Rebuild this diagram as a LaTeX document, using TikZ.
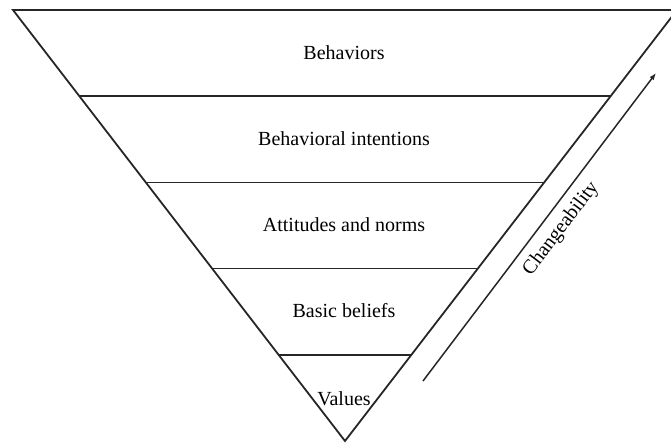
\documentclass[tikz,border=0pt]{standalone}
\usepackage{fontspec}
\setmainfont{Liberation Serif}
\usetikzlibrary{calc,arrows.meta}
\begin{document}
\begin{tikzpicture}[x=0.5pt,y=-0.5pt]
\tikzstyle{rung}=[line width=0.75pt,draw=black!85]
\tikzstyle{layertext}=[font=\fontsize{10}{12}\selectfont]
\useasboundingbox (0,0) rectangle (671,443);
\clip (0,0) rectangle (671,443);
% ========= corners
\coordinate (tl) at (13,10);
\coordinate (tr) at (677,10);
\coordinate (apex) at (345,441);
\draw [rung, line width=0.9pt] (tl) -- (tr) -- (apex) -- cycle;
% ====== levels
\foreach \t in {0.2,0.4,0.6,0.8}
  \draw [rung] ($(tl)!\t!(apex)$) -- ($(tr)!\t!(apex)$);
%% ===== labels
\node (behav) [layertext] at (344,53) {Behaviors};
\node (intent) [layertext] at (344,139) {Behavioral intentions};
\node (attit) [layertext] at (344,225) {Attitudes and norms};
\node (belief) [layertext] at (344,311) {Basic beliefs};
\node (values) [layertext] at (344,399) {Values};
% ====== changeability
\coordinate (low) at (423,381);
\coordinate (high) at (656,73);
\draw [rung, -{Latex[length=3.5pt,width=2.6pt]}] (low) -- node [layertext, pos=0.53, sloped, below=1pt] (change) {Changeability} (high);
\end{tikzpicture}
\end{document}
